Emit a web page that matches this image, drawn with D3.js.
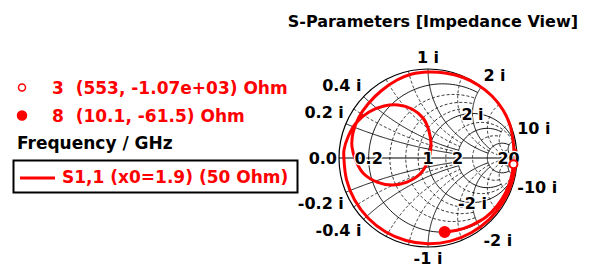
<!DOCTYPE html>
<html>
<head>
<meta charset="utf-8">
<script src="https://cdn.jsdelivr.net/npm/d3@7"></script>
<style>
  body { margin: 0; background: #fff; }
  svg text { font-family: "DejaVu Sans", Verdana, sans-serif; font-weight: bold; }
</style>
</head>
<body>
<div id="chart"></div>
<script>
'use strict'

let width = 590;
let height = 277;

/* S1,1 trace, reflection coefficient (re, im) */
const traceRe = [0.980, 0.984, 0.949, 0.847, 0.689, 0.485, 0.250, 0.000, -0.248, -0.479, -0.674, -0.823, -0.915, -0.945,
                 -0.944, -0.899, -0.809, -0.663, -0.494, -0.337, -0.180, -0.056, 0.011, 0.034, 0.000, -0.090, -0.236, -0.404,
                 -0.573, -0.719, -0.809, -0.854, -0.843,
                 -0.775, -0.674, -0.528, -0.348, -0.180, 0.000, 0.191, 0.382, 0.562, 0.719, 0.843, 0.921, 0.955, 0.966,
                 0.960, 0.933, 0.876, 0.775, 0.652, 0.494, 0.337, 0.187];
const traceIm = [0.103, -0.052, -0.254, -0.489, -0.689, -0.840, -0.934, -0.963, -0.927, -0.829, -0.674, -0.475, -0.245, 0.000,
                 0.090, 0.236, 0.393, 0.517, 0.584, 0.596, 0.551, 0.449, 0.303, 0.135, -0.034, -0.180, -0.270, -0.303,
                 -0.270, -0.180, -0.034, 0.124, 0.281,
                 0.461, 0.607, 0.753, 0.876, 0.944, 0.966, 0.955, 0.910, 0.820, 0.697, 0.539, 0.371, 0.202, 0.067,
                 -0.071, -0.225, -0.382, -0.539, -0.663, -0.753, -0.809, -0.832];

/* markers: frequency (GHz), impedance in Ohm */
const markerFreq = [3, 8];
const markerRes = [553, 10.1];
const markerReact = [-1070, -61.5];
const markerText = ['(553, -1.07e+03) Ohm', '(10.1, -61.5) Ohm'];
const markerFilled = [false, true];
const z0 = 50;

/* grid: solid and dashed circles / arcs */
const rMajor = [0.2, 1, 2, 5];
const xMajor = [0.2, 0.4, 1, 2, 10];
const rMinor = [0.4, 0.6, 0.8, 1.5, 3, 10];
const xMinor = [0.3, 0.6, 0.8, 1.5, 3, 5];

/* tick labels */
const realLabels = ['0.0', '0.2', '1', '2', '20'];
const realValues = [0, 0.2, 1, 2, 20];
const rimValues = [0.2, 0.4, 1, 2, 10, -0.2, -0.4, -1, -2, -10];
const innerValues = [2, -2];

const cx = 428, cy = 158, R = 89;

const gx = d3.scaleLinear().domain([-1, 1]).range([cx - R, cx + R]);
const gy = d3.scaleLinear().domain([-1, 1]).range([cy + R, cy - R]);

function gamma (r, x) {
    const d = (r + 1) * (r + 1) + x * x;
    return [(r * r - 1 + x * x) / d, (2 * x) / d];
}

const line = d3.line().x(d => gx(d[0])).y(d => gy(d[1]));

/* constant resistance arc from x1 to x2 */
function rArc (r, x1, x2) {
    const a1 = Math.atan(x1), a2 = Math.atan(x2);
    return d3.range(0, 1.0001, 1 / 120).map(t => gamma(r, Math.tan(a1 + (a2 - a1) * t)));
}

/* constant reactance arc from r1 to r2 */
function xArc (x, r1, r2) {
    const u1 = r1 / (1 + r1), u2 = r2 / (1 + r2);
    return d3.range(0, 1.0001, 1 / 120).map(t => {
        const u = u1 + (u2 - u1) * t;
        return gamma(u / (1 - u), x);
    });
}

/* how far each grid line runs before it stops */
const rLimit = r => r < 1 ? 2 : r < 2 ? 10 : r < 5 ? 5 : 10;
const xLimit = x => x < 1 ? 2 : x < 10 ? 5 : 20;

const svg = d3.select('#chart')
              .append('svg')
              .attr('width', width)
              .attr('height', height);

svg.append('rect').attr('width', width).attr('height', height).attr('fill', '#fff');

svg.append('text')
   .attr('x', 578)
   .attr('y', 27)
   .attr('text-anchor', 'end')
   .style('font-size', '16px')
   .text('S-Parameters [Impedance View]');

const grid = svg.append('g').attr('fill', 'none').attr('stroke', '#000');

rMinor.forEach(r => {
    grid.append('path').attr('d', line(rArc(r, -rLimit(r), rLimit(r))))
        .attr('stroke-width', 0.8).attr('stroke-dasharray', '3,2');
});
xMinor.forEach(x => {
    [x, -x].forEach(v => {
        grid.append('path').attr('d', line(xArc(v, 0, x < 1 ? 2 : 10)))
            .attr('stroke-width', 0.8).attr('stroke-dasharray', '3,2');
    });
});

rMajor.forEach(r => {
    grid.append('path').attr('d', line(rArc(r, -rLimit(r), rLimit(r))))
        .attr('stroke-width', 0.9);
});
xMajor.forEach(x => {
    [x, -x].forEach(v => {
        grid.append('path').attr('d', line(xArc(v, 0, xLimit(x))))
            .attr('stroke-width', 0.9);
    });
});

grid.append('line')
    .attr('x1', gx(-1)).attr('x2', gx(1))
    .attr('y1', gy(0)).attr('y2', gy(0))
    .attr('stroke-width', 1);

grid.append('circle')
    .attr('cx', gx(0)).attr('cy', gy(0)).attr('r', gx(1) - gx(0))
    .attr('stroke-width', 1.2);

/* trace */
const pts = traceRe.map((d, i) => [d, traceIm[i]]);
svg.append('path')
   .attr('d', d3.line().x(d => gx(d[0])).y(d => gy(d[1])).curve(d3.curveCatmullRom.alpha(0.5))(pts))
   .attr('fill', 'none')
   .attr('stroke', '#ff0000')
   .attr('stroke-width', 3);

/* labels */
const labels = svg.append('g').style('font-size', '16px');

function halo (sel) {
    sel.attr('stroke', '#fff').attr('stroke-width', 2.5).attr('paint-order', 'stroke');
}

realValues.forEach((r, i) => {
    const g = gamma(r, 0);
    const t = labels.append('text')
        .attr('x', r === 0 ? gx(g[0]) - 2 : gx(g[0]))
        .attr('y', gy(0) + 6)
        .attr('text-anchor', r === 0 ? 'end' : 'middle')
        .text(realLabels[i]);
    halo(t);
});

rimValues.forEach(x => {
    const g = gamma(0, x);
    const px = gx(g[0]), py = gy(g[1]);
    const side = Math.abs(g[0]) < 0.1 ? 'middle' : (g[0] > 0 ? 'start' : 'end');
    const t = labels.append('text')
        .attr('x', side === 'start' ? px + 2 : side === 'end' ? px - 2 : px)
        .attr('y', x > 0 ? py - 6 : py + 17)
        .attr('text-anchor', side)
        .text(x + ' i');
    halo(t);
});

innerValues.forEach(x => {
    const g = gamma(1, x);
    const t = labels.append('text')
        .attr('x', gx(g[0]))
        .attr('y', gy(g[1]) + 6)
        .attr('text-anchor', 'middle')
        .text(x + ' i');
    halo(t);
});

const markers = markerFreq.map((f, i) => {
    const zr = markerRes[i] / z0, zx = markerReact[i] / z0;
    return { f: f, g: gamma(zr, zx), filled: markerFilled[i], text: markerText[i] };
});

markers.forEach(m => {
    svg.append('circle')
       .attr('cx', gx(m.g[0])).attr('cy', gy(m.g[1]))
       .attr('r', m.filled ? 5 : 4)
       .attr('fill', m.filled ? '#ff0000' : '#fff')
       .attr('stroke', '#ff0000').attr('stroke-width', 2);
});

/* legend */
const legend = svg.append('g').style('font-size', '17px');

markers.forEach((m, i) => {
    const y = 87.5 + i * 28;
    legend.append('circle')
          .attr('cx', 22).attr('cy', y)
          .attr('r', m.filled ? 4.5 : 3.5)
          .attr('fill', m.filled ? '#ff0000' : '#fff')
          .attr('stroke', '#ff0000').attr('stroke-width', 1.5);
    legend.append('text')
          .attr('x', 52).attr('y', y + 6)
          .attr('fill', '#ff0000')
          .text(m.f + '\u00a0 ' + m.text);
});

legend.append('text')
      .attr('x', 17).attr('y', 149)
      .attr('fill', '#000')
      .text('Frequency / GHz');

legend.append('rect')
      .attr('x', 13.5).attr('y', 160.5)
      .attr('width', 284).attr('height', 32)
      .attr('fill', 'none').attr('stroke', '#000').attr('stroke-width', 2);

legend.append('line')
      .attr('x1', 20).attr('x2', 55).attr('y1', 178).attr('y2', 178)
      .attr('stroke', '#ff0000').attr('stroke-width', 3);

legend.append('text')
      .attr('x', 62).attr('y', 183)
      .attr('fill', '#ff0000')
      .text('S1,1 (x0=1.9) (50 Ohm)');
</script>
</body>
</html>
